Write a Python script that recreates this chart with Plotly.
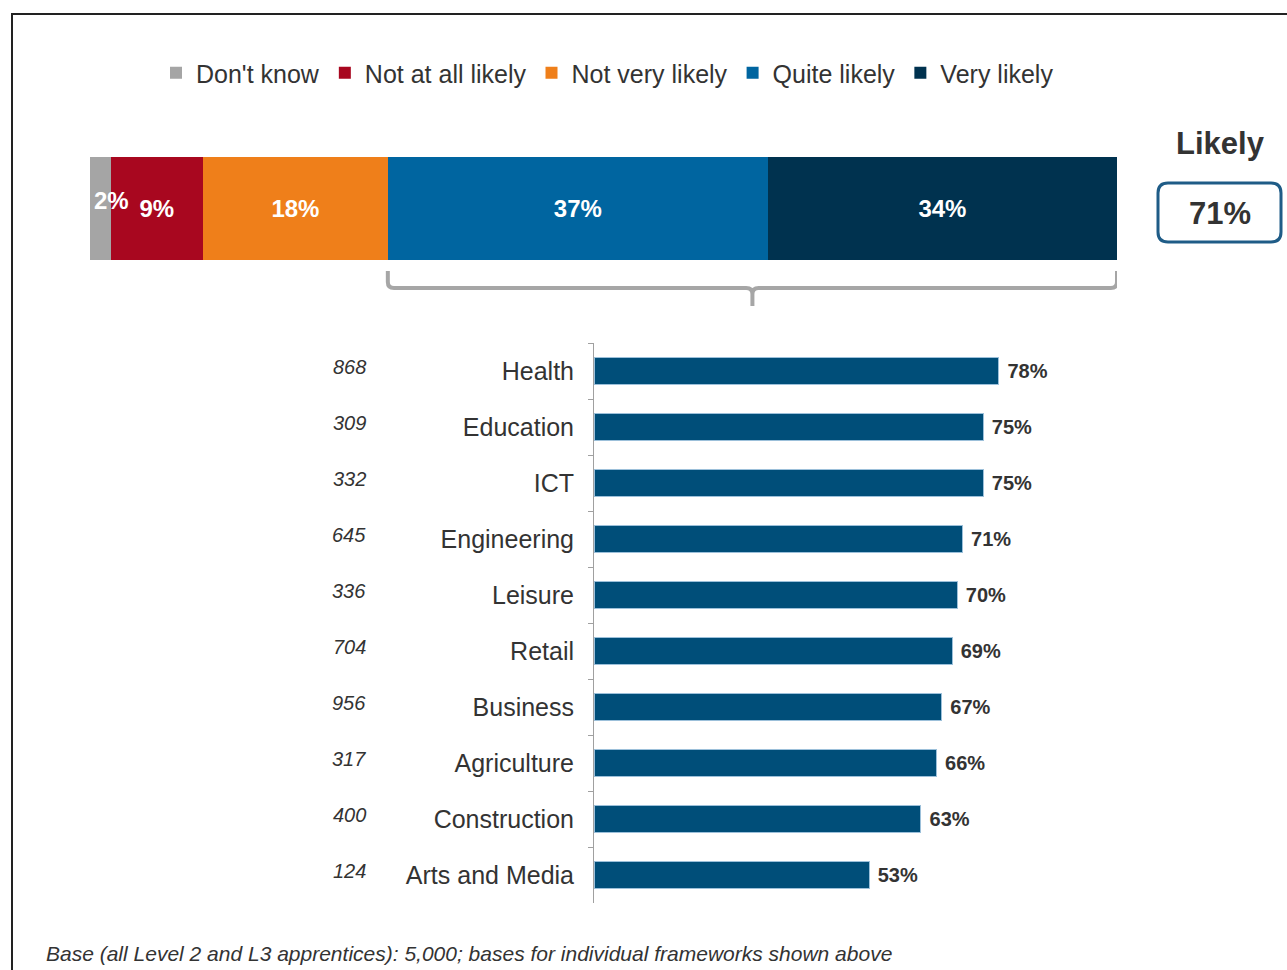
import plotly.graph_objects as go

# top stacked bar (all apprentices)
levels = ["Don't know", "Not at all likely", "Not very likely", "Quite likely", "Very likely"]
level_values = [2, 9, 18, 37, 34]
level_colors = ["#A5A5A5", "#A8071F", "#EF7F1A", "#0065A0", "#00324F"]

# likelihood by framework
frameworks = ["Health", "Education", "ICT", "Engineering", "Leisure",
              "Retail", "Business", "Agriculture", "Construction", "Arts and Media"]
framework_likely = [78, 75, 75, 71, 70, 69, 67, 66, 63, 53]
framework_bases = [868, 309, 332, 645, 336, 704, 956, 317, 400, 124]

W, H = 1287, 970
FONT = "Liberation Sans"
TXT = "#333333"


def px_x(p):
    return p / W


def px_y(p):
    return 1 - p / H


fig = go.Figure()

for i, (name, val, col) in enumerate(zip(levels, level_values, level_colors)):
    fig.add_trace(go.Bar(
        x=[val], y=["all"], orientation="h", name=name,
        marker=dict(color=col, line=dict(width=0)),
        width=1,
        # the thin first segment gets its label as an annotation (drawn on top)
        texttemplate="" if i == 0 else "<b>%{x}%</b>",
        textposition="inside", insidetextanchor="middle",
        textangle=0, constraintext="none",
        textfont=dict(color="white", size=24, family=FONT),
        xaxis="x", yaxis="y", hoverinfo="skip",
    ))

fig.add_trace(go.Bar(
    x=framework_likely, y=frameworks, orientation="h", showlegend=False,
    marker=dict(color="#004E79", line=dict(color="#9CC0DA", width=1)),
    width=0.48,
    texttemplate="\u00a0<b>%{x}%</b>", textposition="outside", cliponaxis=False,
    textfont=dict(color=TXT, size=20, family=FONT),
    xaxis="x2", yaxis="y2", hoverinfo="skip",
))

annotations = [
    dict(x=0, y="all", xref="x", yref="y", xanchor="left", yanchor="middle", xshift=2, yshift=8,
         text=f"<b>{level_values[0]}%</b>", showarrow=False,
         font=dict(size=24, color="white", family=FONT)),
]

# base sizes to the left of the category labels
for fw, base in zip(frameworks, framework_bases):
    annotations.append(dict(
        x=px_x(368), xref="paper", y=fw, yref="y2", yshift=4,
        text=f"<i>{base}</i>", showarrow=False, xanchor="right", yanchor="middle",
        font=dict(size=20, color=TXT, family=FONT),
    ))

likely_total = level_values[3] + level_values[4]
annotations += [
    dict(x=px_x(1220), y=px_y(143), xref="paper", yref="paper", text="<b>Likely</b>",
         xanchor="center", yanchor="middle",
         showarrow=False, font=dict(size=31, color=TXT, family=FONT)),
    dict(x=px_x(1220), y=px_y(213), xref="paper", yref="paper", text=f"<b>{likely_total}%</b>",
         xanchor="center", yanchor="middle",
         showarrow=False, font=dict(size=31, color=TXT, family=FONT)),
    dict(x=px_x(44), y=px_y(953), xref="paper", yref="paper", xanchor="left", yanchor="middle",
         text="<i>Base (all Level 2 and L3 apprentices): 5,000; bases for individual frameworks shown above</i>",
         showarrow=False, font=dict(size=21, color=TXT, family=FONT)),
]

# bracket under the "likely" segments
x0 = sum(level_values[:3])
x1 = sum(level_values)
xm = (x0 + x1) / 2
yt, yc, yb = px_y(271), px_y(288), px_y(306)
rx, ry = 0.6, 6 / H
bracket = (f"M {x0},{yt} L {x0},{yc + ry} Q {x0},{yc} {x0 + rx},{yc} "
           f"L {xm - rx},{yc} Q {xm},{yc} {xm},{yc - ry} L {xm},{yb} "
           f"M {xm},{yc - ry} Q {xm},{yc} {xm + rx},{yc} "
           f"L {x1 - rx},{yc} Q {x1},{yc} {x1},{yc + ry} L {x1},{yt}")

# rounded box around the likely total
bx0, bx1, by0, by1, r = 1158, 1281, 183, 242, 10
box = (f"M {px_x(bx0 + r)},{px_y(by0)} L {px_x(bx1 - r)},{px_y(by0)} "
       f"Q {px_x(bx1)},{px_y(by0)} {px_x(bx1)},{px_y(by0 + r)} "
       f"L {px_x(bx1)},{px_y(by1 - r)} Q {px_x(bx1)},{px_y(by1)} {px_x(bx1 - r)},{px_y(by1)} "
       f"L {px_x(bx0 + r)},{px_y(by1)} Q {px_x(bx0)},{px_y(by1)} {px_x(bx0)},{px_y(by1 - r)} "
       f"L {px_x(bx0)},{px_y(by0 + r)} Q {px_x(bx0)},{px_y(by0)} {px_x(bx0 + r)},{px_y(by0)} Z")

shapes = [
    dict(type="path", path=bracket, xref="x", yref="paper",
         line=dict(color="#A6A6A6", width=4)),
    dict(type="path", path=box, xref="paper", yref="paper",
         line=dict(color="#1F5C87", width=3)),
    dict(type="rect", xref="paper", yref="paper", x0=px_x(12), y0=-0.2, x1=1.2, y1=px_y(14),
         line=dict(color="#222222", width=2)),
]

fig.update_layout(
    width=W, height=H,
    margin=dict(l=0, r=0, t=0, b=0),
    paper_bgcolor="white", plot_bgcolor="white",
    barmode="stack",
    font=dict(family=FONT, color=TXT),
    xaxis=dict(domain=[px_x(90), px_x(1117)], range=[0, 100], visible=False, fixedrange=True),
    yaxis=dict(domain=[px_y(260), px_y(157)], range=[-0.5, 0.5], visible=False, fixedrange=True),
    xaxis2=dict(domain=[px_x(594), px_x(1113)], range=[0, 100], visible=False, anchor="y2"),
    yaxis2=dict(domain=[px_y(903), px_y(343)], anchor="x2", autorange="reversed",
                showline=True, linecolor="#A0A0A0", linewidth=1,
                ticks="outside", tickson="boundaries", ticklen=5, tickcolor="#A0A0A0",
                ticklabelstandoff=14,
                tickfont=dict(size=25, color=TXT, family=FONT)),
    legend=dict(orientation="h", x=px_x(156), y=px_y(73), xanchor="left", yanchor="middle",
                font=dict(size=25, color=TXT, family=FONT), traceorder="normal",
                itemclick=False),
    annotations=annotations,
    shapes=shapes,
)

fig.write_html("out.html", config={"displayModeBar": False},
               post_script="document.body.style.margin = '0';")
